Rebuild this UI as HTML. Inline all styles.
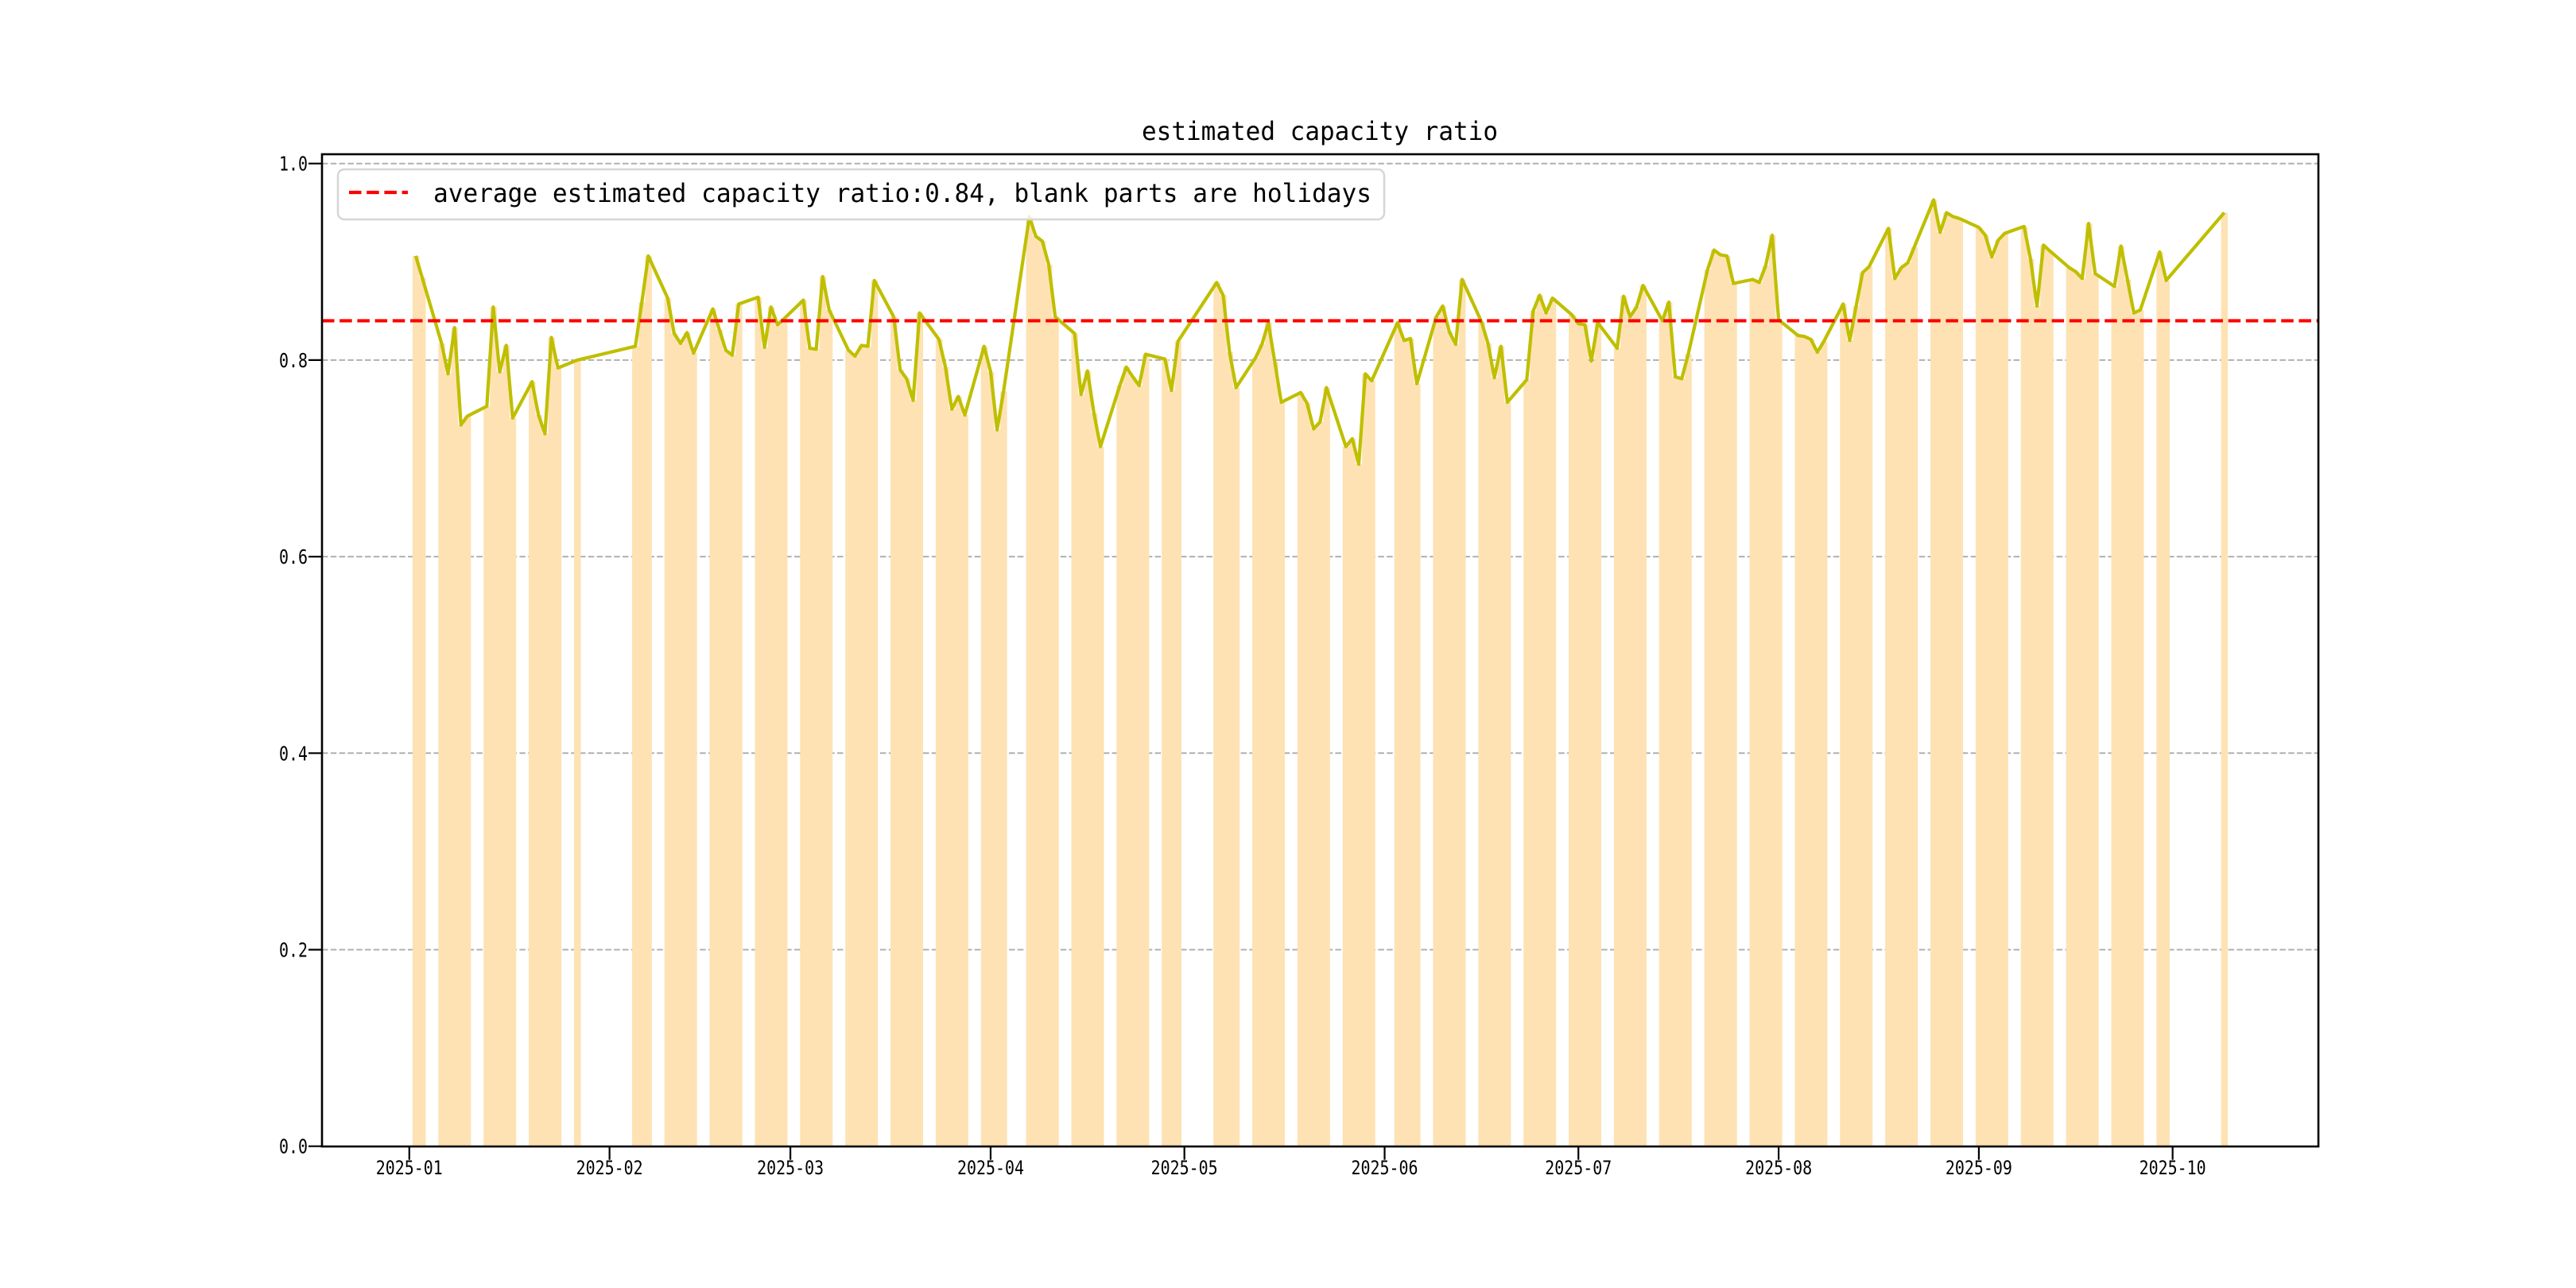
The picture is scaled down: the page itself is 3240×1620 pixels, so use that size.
<!DOCTYPE html>
<html>
<head>
<meta charset="utf-8">
<style>
  html, body { margin:0; padding:0; background:#fff; }
  svg { display:block; }
  text { font-family: "DejaVu Sans Mono", "Liberation Mono", "Noto Sans CJK SC", monospace; fill:#000; }
</style>
</head>
<body>
<svg id="chart" width="3240" height="1620" viewBox="0 0 3240 1620" xmlns="http://www.w3.org/2000/svg">
  <rect x="0" y="0" width="3240" height="1620" fill="#ffffff"/>
  <text x="1660" y="176" font-size="32" text-anchor="middle" textLength="448" lengthAdjust="spacingAndGlyphs">estimated capacity ratio</text>
  <g id="grid"></g>
  <g id="bars"></g>
  <polyline id="line" fill="none" stroke="#bfbf00" stroke-width="4.2" stroke-linejoin="round"/>
  <line id="avg" stroke="#ff0000" stroke-width="4.2" stroke-dasharray="15.5,6.7"/>
  <rect x="405" y="194" width="2511" height="1248" fill="none" stroke="#000" stroke-width="2.6"/>
  <g id="xaxis"></g>
  <g id="yaxis"></g>
  <g>
    <rect x="425" y="213" width="1316" height="63" rx="8" fill="#ffffff" fill-opacity="0.8" stroke="#d6d6d6" stroke-width="2.5"/>
    <line x1="439" y1="242" x2="513" y2="242" stroke="#ff0000" stroke-width="4.2" stroke-dasharray="15.5,6.7"/>
    <text x="545" y="254" font-size="32" textLength="1180" lengthAdjust="spacingAndGlyphs">average estimated capacity ratio:0.84, blank parts are holidays</text>
  </g>
</svg>
<script>
const dates = ["2025-01-02","2025-01-03","2025-01-06","2025-01-07","2025-01-08","2025-01-09","2025-01-10","2025-01-13","2025-01-14","2025-01-15","2025-01-16","2025-01-17","2025-01-20","2025-01-21","2025-01-22","2025-01-23","2025-01-24","2025-01-27",
"2025-02-05","2025-02-06","2025-02-07","2025-02-10","2025-02-11","2025-02-12","2025-02-13","2025-02-14","2025-02-17","2025-02-18","2025-02-19","2025-02-20","2025-02-21","2025-02-24","2025-02-25","2025-02-26","2025-02-27","2025-02-28",
"2025-03-03","2025-03-04","2025-03-05","2025-03-06","2025-03-07","2025-03-10","2025-03-11","2025-03-12","2025-03-13","2025-03-14","2025-03-17","2025-03-18","2025-03-19","2025-03-20","2025-03-21","2025-03-24","2025-03-25","2025-03-26","2025-03-27","2025-03-28","2025-03-31",
"2025-04-01","2025-04-02","2025-04-03","2025-04-07","2025-04-08","2025-04-09","2025-04-10","2025-04-11","2025-04-14","2025-04-15","2025-04-16","2025-04-17","2025-04-18","2025-04-21","2025-04-22","2025-04-23","2025-04-24","2025-04-25","2025-04-28","2025-04-29","2025-04-30",
"2025-05-06","2025-05-07","2025-05-08","2025-05-09","2025-05-12","2025-05-13","2025-05-14","2025-05-15","2025-05-16","2025-05-19","2025-05-20","2025-05-21","2025-05-22","2025-05-23","2025-05-26","2025-05-27","2025-05-28","2025-05-29","2025-05-30",
"2025-06-03","2025-06-04","2025-06-05","2025-06-06","2025-06-09","2025-06-10","2025-06-11","2025-06-12","2025-06-13","2025-06-16","2025-06-17","2025-06-18","2025-06-19","2025-06-20","2025-06-23","2025-06-24","2025-06-25","2025-06-26","2025-06-27","2025-06-30",
"2025-07-01","2025-07-02","2025-07-03","2025-07-04","2025-07-07","2025-07-08","2025-07-09","2025-07-10","2025-07-11","2025-07-14","2025-07-15","2025-07-16","2025-07-17","2025-07-18","2025-07-21","2025-07-22","2025-07-23","2025-07-24","2025-07-25","2025-07-28","2025-07-29","2025-07-30","2025-07-31",
"2025-08-01","2025-08-04","2025-08-05","2025-08-06","2025-08-07","2025-08-08","2025-08-11","2025-08-12","2025-08-13","2025-08-14","2025-08-15","2025-08-18","2025-08-19","2025-08-20","2025-08-21","2025-08-22","2025-08-25","2025-08-26","2025-08-27","2025-08-28","2025-08-29",
"2025-09-01","2025-09-02","2025-09-03","2025-09-04","2025-09-05","2025-09-08","2025-09-09","2025-09-10","2025-09-11","2025-09-12","2025-09-15","2025-09-16","2025-09-17","2025-09-18","2025-09-19","2025-09-22","2025-09-23","2025-09-24","2025-09-25","2025-09-26","2025-09-29","2025-09-30",
"2025-10-09"];
const ratios = [0.906,0.884,0.817,0.786,0.833,0.734,0.743,0.753,0.854,0.788,0.815,0.741,0.778,0.744,0.725,0.823,0.792,0.800,
0.814,0.859,0.906,0.863,0.827,0.817,0.828,0.807,0.852,0.831,0.810,0.805,0.857,0.864,0.813,0.854,0.836,0.842,
0.861,0.812,0.811,0.885,0.851,0.810,0.804,0.815,0.814,0.881,0.844,0.790,0.781,0.759,0.848,0.821,0.793,0.750,0.763,0.744,0.814,
0.788,0.729,0.768,0.946,0.926,0.921,0.897,0.844,0.827,0.765,0.789,0.746,0.712,0.774,0.793,0.783,0.774,0.806,0.801,0.769,0.819,
0.879,0.866,0.808,0.772,0.802,0.816,0.838,0.798,0.757,0.767,0.756,0.730,0.737,0.772,0.712,0.720,0.694,0.786,0.779,
0.838,0.820,0.822,0.776,0.844,0.855,0.829,0.816,0.882,0.839,0.817,0.782,0.814,0.757,0.780,0.850,0.866,0.848,0.863,0.846,
0.837,0.836,0.799,0.838,0.812,0.865,0.844,0.854,0.876,0.840,0.859,0.783,0.781,0.806,0.892,0.912,0.907,0.906,0.878,0.882,0.879,0.896,0.927,
0.841,0.825,0.824,0.821,0.808,0.819,0.857,0.820,0.855,0.889,0.895,0.934,0.883,0.894,0.899,0.915,0.963,0.930,0.950,0.946,0.944,
0.935,0.927,0.905,0.922,0.929,0.936,0.903,0.855,0.917,0.911,0.894,0.890,0.883,0.939,0.888,0.875,0.916,0.882,0.848,0.851,0.910,0.881,
0.950];
const averageRatio = [0.84];
const xTickLabels = ["2025-01","2025-02","2025-03","2025-04","2025-05","2025-06","2025-07","2025-08","2025-09","2025-10"];
const yTickValues = [0.0,0.2,0.4,0.6,0.8,1.0];
const yTickLabels = ["0.0","0.2","0.4","0.6","0.8","1.0"];

const NS = "http://www.w3.org/2000/svg";
const PLOT = {left:405, right:2916, top:194, bottom:1441.7};
const ORIGIN = Date.UTC(2025,0,1);
function dayIndex(s){ const p=s.split("-").map(Number); return (Date.UTC(p[0],p[1]-1,p[2]||1)-ORIGIN)/86400000; }
const X0 = 514.8, PX_PER_DAY = 8.124;
function xScale(d){ return X0 + d*PX_PER_DAY; }
const Y0 = 1441.7, PX_PER_UNIT = 1236;
function yScale(v){ return Y0 - v*PX_PER_UNIT; }

const grid = document.getElementById('grid');
const yaxis = document.getElementById('yaxis');
yTickValues.forEach((v,i)=>{
  const y = yScale(v);
  if (v>0) {
    const g = document.createElementNS(NS,'line');
    
    
    g.setAttribute('x1',PLOT.left); g.setAttribute('x2',PLOT.right);
    g.setAttribute('y1',y); g.setAttribute('y2',y);
    g.setAttribute('stroke','#b0b0b0'); g.setAttribute('stroke-width','2');
    g.setAttribute('stroke-dasharray','7.5,3.3');
    grid.appendChild(g);
  }
  const t = document.createElementNS(NS,'line');
  
  
  t.setAttribute('x1',PLOT.left-17); t.setAttribute('x2',PLOT.left);
  t.setAttribute('y1',y); t.setAttribute('y2',y);
  t.setAttribute('stroke','#000'); t.setAttribute('stroke-width','2.2');
  yaxis.appendChild(t);
  const lb = document.createElementNS(NS,'text');
  
  
  lb.setAttribute('x',387); lb.setAttribute('y',y+9);
  lb.setAttribute('font-size','25'); lb.setAttribute('text-anchor','end');
  lb.setAttribute('textLength','36'); lb.setAttribute('lengthAdjust','spacingAndGlyphs');
  lb.textContent = yTickLabels[i];
  yaxis.appendChild(lb);
});

const xaxis = document.getElementById('xaxis');
xTickLabels.forEach(lbl=>{
  const x = xScale(dayIndex(lbl+"-01"));
  const t = document.createElementNS(NS,'line');
  
  
  t.setAttribute('x1',x); t.setAttribute('x2',x);
  t.setAttribute('y1',PLOT.bottom); t.setAttribute('y2',PLOT.bottom+17);
  t.setAttribute('stroke','#000'); t.setAttribute('stroke-width','2.2');
  xaxis.appendChild(t);
  const lb = document.createElementNS(NS,'text');
  
  
  lb.setAttribute('x',x); lb.setAttribute('y',1477);
  lb.setAttribute('font-size','24'); lb.setAttribute('text-anchor','middle');
  lb.setAttribute('textLength','84'); lb.setAttribute('lengthAdjust','spacingAndGlyphs');
  lb.textContent = lbl;
  xaxis.appendChild(lb);
});

const bars = document.getElementById('bars');
dates.forEach((d,i)=>{
  const xc = xScale(dayIndex(d));
  const r = document.createElementNS(NS,'rect');
  
  
  r.setAttribute('x', xc - PX_PER_DAY/2);
  r.setAttribute('width', PX_PER_DAY + 0.4);
  r.setAttribute('y', yScale(ratios[i]));
  r.setAttribute('height', yScale(0) - yScale(ratios[i]));
  r.setAttribute('fill', '#fee2b3');
  bars.appendChild(r);
});

document.getElementById('line').setAttribute('points',
  dates.map((d,i)=> xScale(dayIndex(d)).toFixed(1)+","+yScale(ratios[i]).toFixed(1)).join(" "));

const avg = document.getElementById('avg');
avg.setAttribute('x1', PLOT.left); avg.setAttribute('x2', PLOT.right);
avg.setAttribute('y1', yScale(averageRatio[0])); avg.setAttribute('y2', yScale(averageRatio[0]));
</script>
</body>
</html>
